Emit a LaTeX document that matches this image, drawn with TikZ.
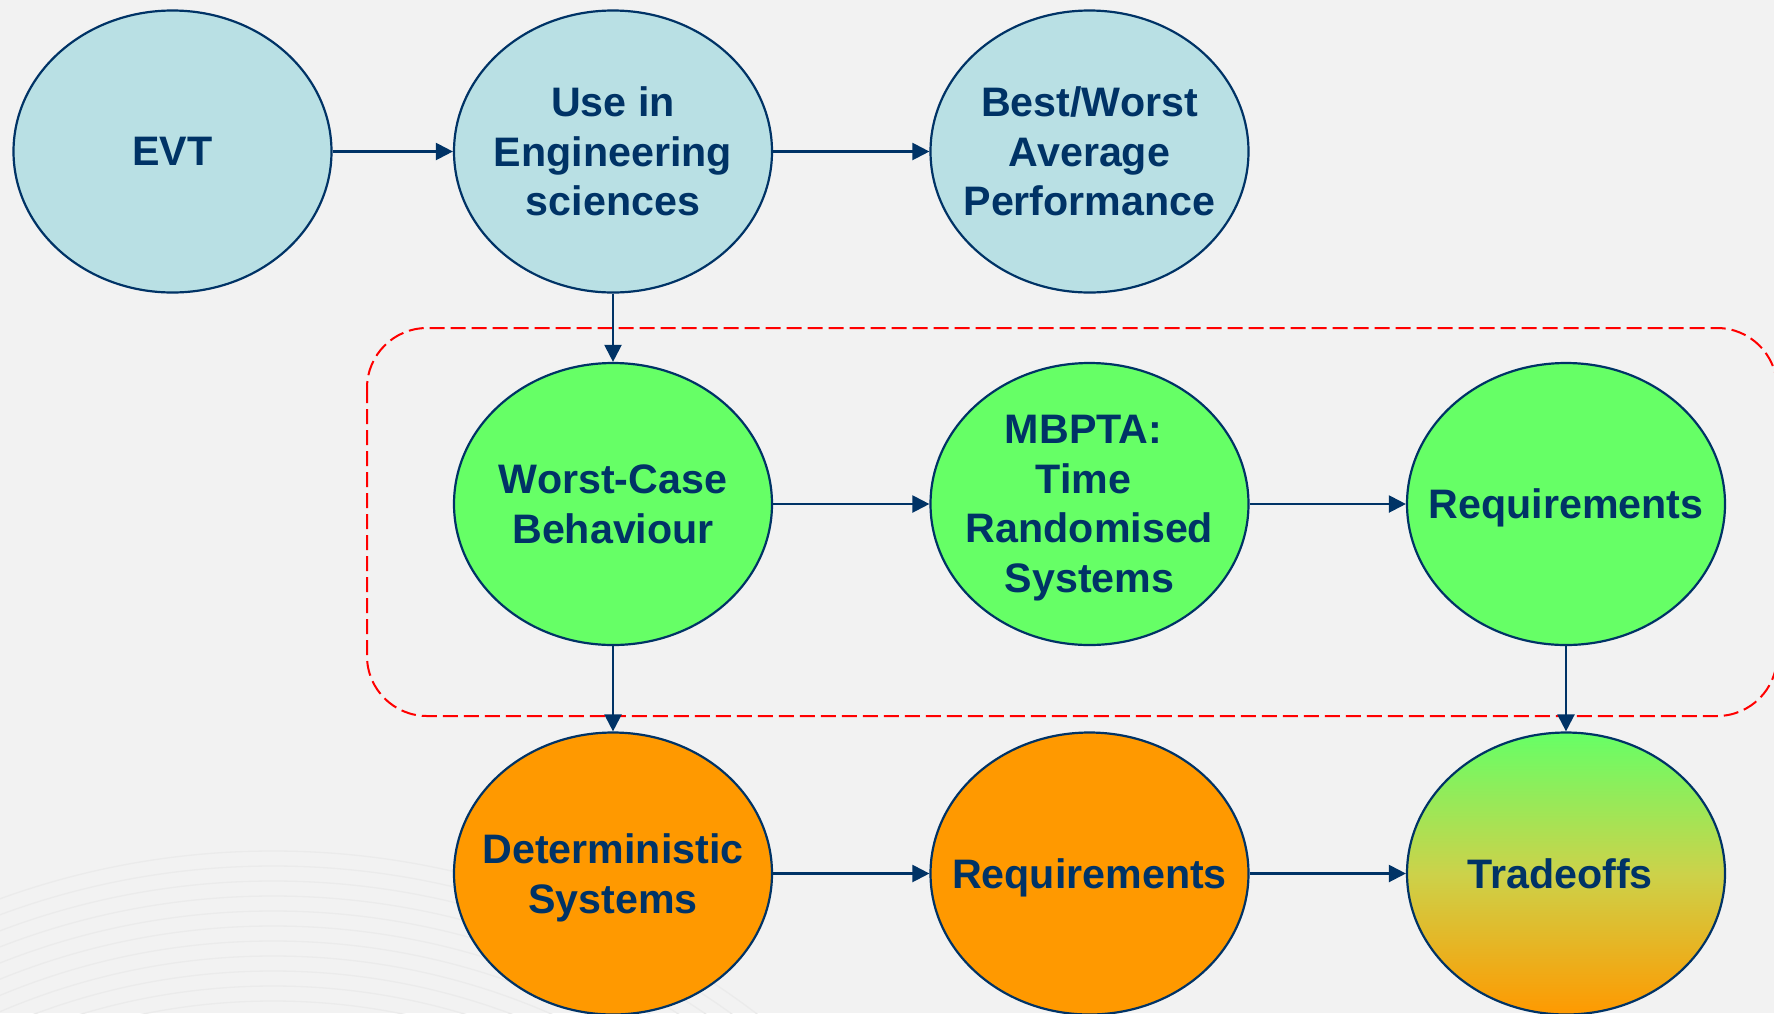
\documentclass[tikz,border=0pt]{standalone}
\usepackage{fontspec}
\setmainfont{Liberation Sans}
\usetikzlibrary{shapes.geometric,arrows.meta}
\definecolor{bg}{HTML}{F2F2F2}
\definecolor{navy}{HTML}{003366}
\definecolor{lblue}{HTML}{B9E0E4}
\definecolor{lgreen}{HTML}{66FF66}
\definecolor{orng}{HTML}{FF9900}
\definecolor{tmid}{HTML}{CCD24A}
\definecolor{arccol}{HTML}{EBEBEB}
\begin{document}
\begin{tikzpicture}[x=1pt,y=-1pt,
 oval/.style={ellipse,draw=navy,line width=2.2pt,minimum width=318pt,minimum height=282pt,inner sep=0pt},
 lbl/.style={text=navy,font=\fontsize{41.2}{49.5}\selectfont\bfseries,align=center,inner sep=0pt,text depth=0pt},
 conn/.style={draw=navy,line width=2.2pt,-{Triangle[length=17pt,width=17pt]}},
 groupbox/.style={draw=red,line width=2pt,dash pattern=on 15pt off 6pt,rounded corners=60pt},
 bgarc/.style={draw=arccol,line width=1.3pt}]
\useasboundingbox (0,0) rectangle (1774,1013);
\clip (0,0) rectangle (1774,1013);
\fill[bg] (0,0) rectangle (1774,1013);
% faint background arcs
\begin{scope}
\clip (0,800) rectangle (760,1013);
\foreach \r in {800,785,...,620}{
  \draw[bgarc] (273,1651) circle[radius=\r];
}
\end{scope}
% dashed group
\draw[groupbox] (367,328) rectangle (1777,716);
% ellipses
\node[oval,fill=lblue] (evt) at (172.5,151.5) {};
\node[oval,fill=lblue] (use) at (613,151.5) {};
\node[oval,fill=lblue] (best) at (1089.5,151.5) {};
\node[oval,fill=lgreen] (wcb) at (613,504) {};
\node[oval,fill=lgreen] (mbpta) at (1089.5,504) {};
\node[oval,fill=lgreen] (req) at (1566,504) {};
\node[oval,fill=orng] (det) at (613,873.5) {};
\node[oval,fill=orng] (req2) at (1089.5,873.5) {};
\node[oval,top color=lgreen,bottom color=orng,middle color=tmid] (trade) at (1566,873.5) {};
% labels
\node[lbl] at (evt.center) {EVT};
\node[lbl] at (use.center) {Use in\\Engineering\\sciences};
\node[lbl] at (best.center) {Best/Worst\\Average\\Performance};
\node[lbl] at (wcb.center) {Worst-Case\\Behaviour};
\node[lbl] at (mbpta.center) {MBPTA:\rule{12pt}{0pt}\\Time\rule{12pt}{0pt}\\Randomised\\Systems};
\node[lbl] at (req.center) {Requirements};
\node[lbl] at (det.center) {Deterministic\\Systems};
\node[lbl] at (req2.center) {Requirements};
\node[lbl] at (trade.center) {Tradeoffs\rule{12pt}{0pt}};
% connectors
\draw[conn] (evt.east) -- (use.west);
\draw[conn] (use.east) -- (best.west);
\draw[conn] (use.south) -- (wcb.north);
\draw[conn] (wcb.east) -- (mbpta.west);
\draw[conn] (mbpta.east) -- (req.west);
\draw[conn] (wcb.south) -- (det.north);
\draw[conn] (req.south) -- (trade.north);
\draw[conn] (det.east) -- (req2.west);
\draw[conn] (req2.east) -- (trade.west);
\end{tikzpicture}
\end{document}
